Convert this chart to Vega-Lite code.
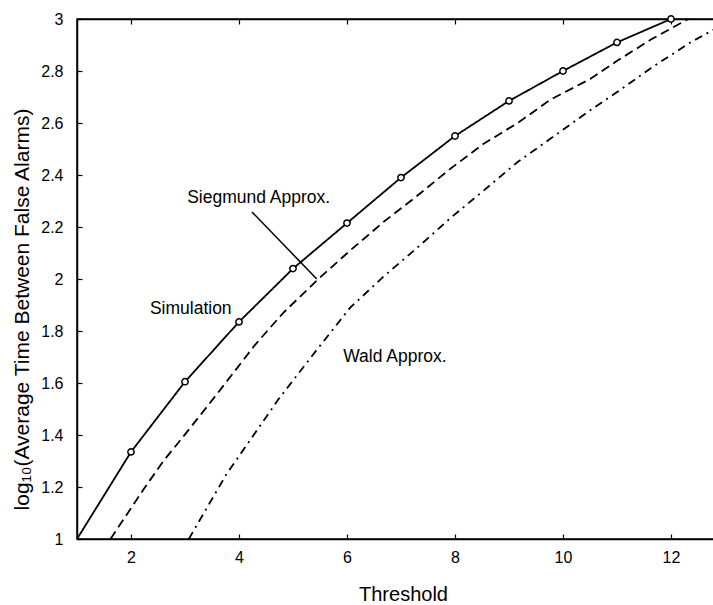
{
  "$schema": "https://vega.github.io/schema/vega-lite/v6.json",
  "autosize": "none",
  "padding": {"left": 77, "top": 19, "right": 0, "bottom": 66},
  "width": 648,
  "height": 520,
  "background": "white",
  "config": {
    "font": "Liberation Sans",
    "view": {"stroke": "black", "strokeWidth": 1.5},
    "axis": {"domainColor": "black", "domainWidth": 1.5, "tickColor": "black", "tickWidth": 1.2, "labelColor": "black", "titleColor": "black", "grid": false, "labelFont": "Liberation Sans", "titleFont": "Liberation Sans", "titleFontWeight": "normal"}
  },
  "datasets": {
    "curves": [
      {"series": "Simulation", "x": 1, "y": 1},
      {"series": "Simulation", "x": 2, "y": 1.335},
      {"series": "Simulation", "x": 3, "y": 1.605},
      {"series": "Simulation", "x": 4, "y": 1.835},
      {"series": "Simulation", "x": 5, "y": 2.04},
      {"series": "Simulation", "x": 6, "y": 2.215},
      {"series": "Simulation", "x": 7, "y": 2.39},
      {"series": "Simulation", "x": 8, "y": 2.55},
      {"series": "Simulation", "x": 9, "y": 2.685},
      {"series": "Simulation", "x": 10, "y": 2.8},
      {"series": "Simulation", "x": 11, "y": 2.91},
      {"series": "Simulation", "x": 12, "y": 3.0},
      {"series": "Siegmund", "x": 1.62, "y": 1.0},
      {"series": "Siegmund", "x": 2.23, "y": 1.19},
      {"series": "Siegmund", "x": 2.6, "y": 1.3},
      {"series": "Siegmund", "x": 3.03, "y": 1.41},
      {"series": "Siegmund", "x": 3.45, "y": 1.52},
      {"series": "Siegmund", "x": 3.9, "y": 1.64},
      {"series": "Siegmund", "x": 4.29, "y": 1.745},
      {"series": "Siegmund", "x": 4.82, "y": 1.87},
      {"series": "Siegmund", "x": 5.47, "y": 2.0},
      {"series": "Siegmund", "x": 6.06, "y": 2.11},
      {"series": "Siegmund", "x": 6.68, "y": 2.22},
      {"series": "Siegmund", "x": 7.3, "y": 2.32},
      {"series": "Siegmund", "x": 7.92, "y": 2.425},
      {"series": "Siegmund", "x": 8.53, "y": 2.52},
      {"series": "Siegmund", "x": 9.16, "y": 2.6},
      {"series": "Siegmund", "x": 9.77, "y": 2.69},
      {"series": "Siegmund", "x": 10.51, "y": 2.77},
      {"series": "Siegmund", "x": 11.01, "y": 2.84},
      {"series": "Siegmund", "x": 11.62, "y": 2.92},
      {"series": "Siegmund", "x": 12.32, "y": 3.0},
      {"series": "Wald", "x": 3.07, "y": 1.0},
      {"series": "Wald", "x": 3.77, "y": 1.25},
      {"series": "Wald", "x": 4.74, "y": 1.54},
      {"series": "Wald", "x": 5.45, "y": 1.73},
      {"series": "Wald", "x": 6.06, "y": 1.89},
      {"series": "Wald", "x": 6.68, "y": 2.01},
      {"series": "Wald", "x": 7.3, "y": 2.12},
      {"series": "Wald", "x": 7.92, "y": 2.235},
      {"series": "Wald", "x": 8.53, "y": 2.34},
      {"series": "Wald", "x": 9.16, "y": 2.45},
      {"series": "Wald", "x": 9.77, "y": 2.54},
      {"series": "Wald", "x": 10.51, "y": 2.65},
      {"series": "Wald", "x": 11.01, "y": 2.72},
      {"series": "Wald", "x": 11.62, "y": 2.81},
      {"series": "Wald", "x": 12.36, "y": 2.91},
      {"series": "Wald", "x": 12.8, "y": 2.96},
      {"series": "Wald", "x": 13, "y": 2.99}
    ],
    "labels": [
      {"label": "Siegmund Approx.", "x": 3.04, "y": 2.31},
      {"label": "Simulation", "x": 2.35, "y": 1.885},
      {"label": "Wald Approx.", "x": 5.93, "y": 1.7}
    ],
    "pointer": [
      {"x": 4.24, "y": 2.258, "x2": 5.44, "y2": 2.0}
    ]
  },
  "resolve": {"axis": {"x": "independent"}},
  "layer": [
    {
      "data": {"name": "curves"},
      "mark": {"type": "line", "color": "black", "strokeWidth": 1.8, "clip": true},
      "encoding": {
        "x": {"field": "x", "type": "quantitative", "scale": {"domain": [1, 13], "nice": false, "zero": false},
          "axis": {"orient": "bottom", "values": [2, 4, 6, 8, 10, 12], "tickSize": -5, "labelPadding": 15, "labelFontSize": 16, "title": "Threshold", "titleFontSize": 20, "titleX": 326, "titleY": 55, "titleBaseline": "middle", "titleAnchor": null, "titleAlign": "center"}},
        "y": {"field": "y", "type": "quantitative", "scale": {"domain": [1, 3], "nice": false, "zero": false},
          "axis": {"orient": "left", "values": [1, 1.2, 1.4, 1.6, 1.8, 2, 2.2, 2.4, 2.6, 2.8, 3], "format": "~g", "tickSize": -5, "labelPadding": 19, "labelFontSize": 16, "title": "log₁₀(Average Time Between False Alarms)", "titleFontSize": 21, "titleAngle": -90, "titleX": -55, "titleY": 290, "titleAlign": "center", "titleBaseline": "middle", "titleAnchor": null}},
        "detail": {"field": "series"},
        "strokeDash": {"field": "series", "type": "nominal", "legend": null,
          "scale": {"domain": ["Simulation", "Siegmund", "Wald"], "range": [[1, 0], [9, 5], [8, 5, 2, 5]]}}
      }
    },
    {
      "data": {"name": "curves"},
      "transform": [{"filter": "datum.series === 'Simulation' && datum.x >= 2"}],
      "mark": {"type": "point", "shape": "circle", "filled": false, "fill": "white", "stroke": "black", "strokeWidth": 1.5, "size": 40, "opacity": 1},
      "encoding": {
        "x": {"field": "x", "type": "quantitative", "axis": null},
        "y": {"field": "y", "type": "quantitative"}
      }
    },
    {
      "data": {"name": "labels"},
      "mark": {"type": "text", "align": "left", "baseline": "middle", "fontSize": 17.5, "color": "black", "font": "Liberation Sans"},
      "encoding": {
        "x": {"field": "x", "type": "quantitative", "axis": null},
        "y": {"field": "y", "type": "quantitative"},
        "text": {"field": "label"}
      }
    },
    {
      "data": {"name": "pointer"},
      "mark": {"type": "rule", "color": "black", "strokeWidth": 1.5},
      "encoding": {
        "x": {"field": "x", "type": "quantitative", "axis": null},
        "y": {"field": "y", "type": "quantitative"},
        "x2": {"field": "x2"},
        "y2": {"field": "y2"}
      }
    },
    {
      "data": {"name": "pointer"},
      "mark": {"type": "rule", "opacity": 0},
      "encoding": {
        "x": {"field": "x", "type": "quantitative",
          "axis": {"orient": "top", "values": [2, 4, 6, 8, 10, 12], "tickSize": -5, "labels": false, "title": null}}
      }
    }
  ]
}
